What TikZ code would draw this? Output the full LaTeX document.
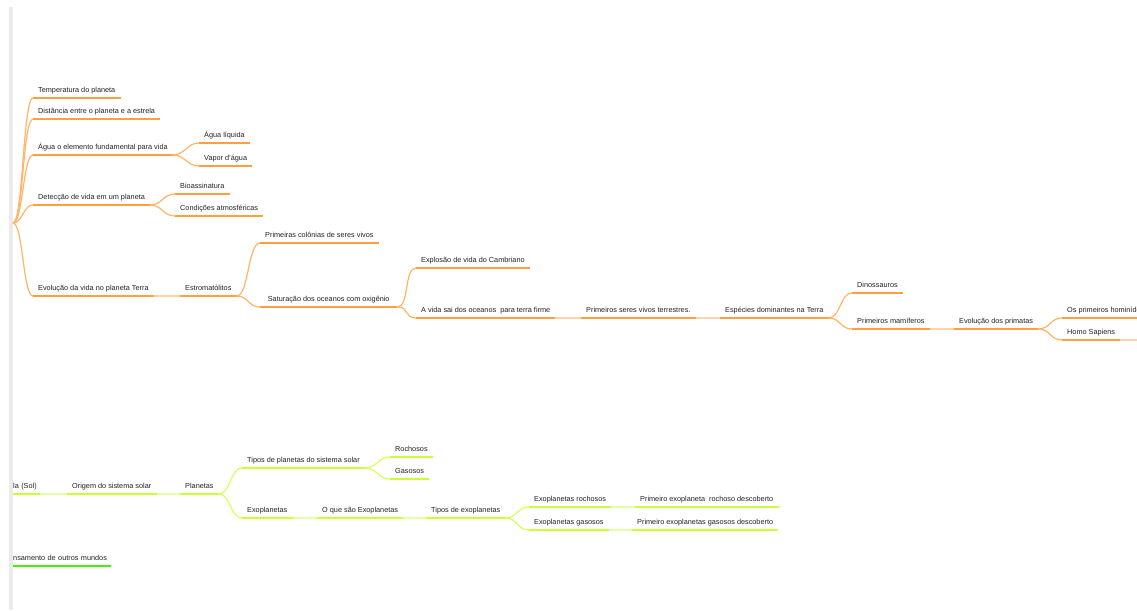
\documentclass[tikz,border=0pt]{standalone}
\usepackage{fontspec}
\setmainfont{Liberation Sans}
\definecolor{orU}{HTML}{FFA040}
\definecolor{orC}{HTML}{FFB466}
\definecolor{orL}{HTML}{FFD4AA}
\definecolor{lmU}{HTML}{CCFF33}
\definecolor{lmC}{HTML}{D6FF5C}
\definecolor{lmL}{HTML}{E6FFA6}
\definecolor{grU}{HTML}{44F000}
\definecolor{txt}{HTML}{222222}
\definecolor{barc}{HTML}{EBEBEB}
\begin{document}
\begin{tikzpicture}[x=1pt,y=-1pt,
  tp/.style={anchor=south west, inner xsep=5pt, inner ysep=3.5pt, text height=5.5pt, text depth=2pt, font=\fontsize{7.3}{8}\selectfont, text=txt},
  ulO/.style={draw=orU, line width=1.6pt},
  ulL/.style={draw=lmU, line width=1.6pt},
  ulG/.style={draw=grU, line width=1.6pt},
  cO/.style={draw=orC, line width=1.2pt},
  sO/.style={draw=orL, line width=1.6pt},
  cL/.style={draw=lmC, line width=1.2pt},
  sL/.style={draw=lmL, line width=1.6pt}]
\useasboundingbox (0,0) rectangle (1137,610);
\fill[white] (0,0) rectangle (1137,610);
\fill[barc] (9,7) rectangle (13,610);

% ---------- orange branch ----------
\coordinate (rO) at (13,223);
\node[tp] (temp) at (33,98) {Temperatura do planeta};
\node[tp] (dist) at (33,119) {Distância entre o planeta e a estrela};
\node[tp] (agua) at (33,155) {Água o elemento fundamental para vida};
\node[tp] (liq) at (199,143) {Água líquida};
\node[tp] (vap) at (199,166) {Vapor d'água};
\node[tp] (det) at (33,205) {Detecção de vida em um planeta};
\node[tp] (bio) at (175,194) {Bioassinatura};
\node[tp] (cond) at (175,216) {Condições atmosféricas};
\node[tp] (evo) at (33,296) {Evolução da vida no planeta Terra};
\node[tp] (estr) at (180,296) {Estromatólitos};
\node[tp] (prim) at (260,243) {Primeiras colônias de seres vivos};
\node[tp, minimum width=137pt, align=left] (sat) at (260,307) {Saturação dos oceanos com oxigênio};
\node[tp] (expl) at (416,268) {Explosão de vida do Cambriano};
\node[tp] (vida) at (416,318) {A vida sai dos oceanos\ \ para terra firme};
\node[tp] (terr) at (581,318) {Primeiros seres vivos terrestres.};
\node[tp] (esp) at (720,318) {Espécies dominantes na Terra};
\node[tp] (dino) at (852,293) {Dinossauros};
\node[tp] (mam) at (852,329) {Primeiros mamíferos};
\node[tp] (evp) at (954,329) {Evolução dos primatas};
\node[tp] (hom) at (1062,318) {Os primeiros hominídeos};
\node[tp] (homo) at (1062,340) {Homo Sapiens};
\coordinate (homoE) at (1140,340);

\foreach \n in {temp,dist,agua,liq,vap,det,bio,cond,evo,estr,prim,sat,expl,vida,terr,esp,dino,mam,evp,hom,homo}
  \draw[ulO] (\n.south west) -- (\n.south east);

\foreach \n in {temp,dist,agua,det,evo}
  \draw[cO] (rO) .. controls +(10,0) and +(-10,0) .. (\n.south west);
\foreach \a/\b in {agua/liq,agua/vap,det/bio,det/cond,estr/prim,estr/sat,sat/expl,sat/vida,esp/dino,esp/mam,evp/hom,evp/homo}
  \draw[cO] (\a.south east) .. controls +(12,0) and +(-12,0) .. (\b.south west);
\foreach \a/\b in {evo/estr,vida/terr,terr/esp,mam/evp,homo/homoE}
  \draw[sO] (\a.south east) -- (\b.south west);

% ---------- lime branch ----------
\node[tp, inner xsep=0pt, text width=27pt, align=left] (sol) at (13,494) {la (Sol)};
\node[tp] (orig) at (67,494) {Origem do sistema solar};
\node[tp] (plan) at (180,494) {Planetas};
\node[tp] (tpss) at (242,468) {Tipos de planetas do sistema solar};
\node[tp] (roch) at (390,457) {Rochosos};
\node[tp] (gas) at (390,479) {Gasosos};
\node[tp] (exo) at (242,518) {Exoplanetas};
\node[tp] (oque) at (317,518) {O que são Exoplanetas};
\node[tp] (texo) at (426,518) {Tipos de exoplanetas};
\node[tp] (exr) at (529,507) {Exoplanetas rochosos};
\node[tp] (pexr) at (635,507) {Primeiro exoplaneta\ \ rochoso descoberto};
\node[tp] (exg) at (529,530) {Exoplanetas gasosos};
\node[tp] (pexg) at (632,530) {Primeiro exoplanetas gasosos descoberto};

\foreach \n in {sol,orig,plan,tpss,roch,gas,exo,oque,texo,exr,pexr,exg,pexg}
  \draw[ulL] (\n.south west) -- (\n.south east);
\foreach \a/\b in {plan/tpss,plan/exo,tpss/roch,tpss/gas,texo/exr,texo/exg}
  \draw[cL] (\a.south east) .. controls +(12,0) and +(-12,0) .. (\b.south west);
\foreach \a/\b in {sol/orig,orig/plan,exo/oque,oque/texo,exr/pexr,exg/pexg}
  \draw[sL] (\a.south east) -- (\b.south west);

% ---------- green branch ----------
\node[tp, inner xsep=0pt, text width=98pt, align=left] (pens) at (13,566) {nsamento de outros mundos};
\draw[ulG] (pens.south west) -- (pens.south east);
\end{tikzpicture}
\end{document}
